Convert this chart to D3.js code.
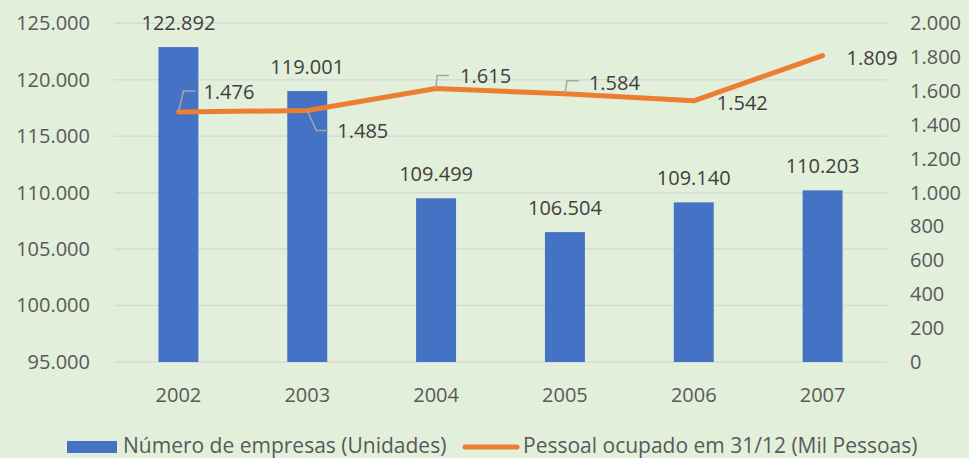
<!DOCTYPE html>
<html>
<head>
<meta charset="utf-8">
<script src="https://cdn.jsdelivr.net/npm/d3@7"></script>
<style>
  body { margin: 0; background: #E2EFDA; }
  svg { display: block; font-family: "Open Sans", sans-serif; }
</style>
</head>
<body>
<svg id="chart" width="969" height="458"></svg>
<script>
// dados
var anos = ['2002', '2003', '2004', '2005', '2006', '2007']
var empresas = [122892, 119001, 109499, 106504, 109140, 110203]
var pessoal = [1476, 1485, 1615, 1584, 1542, 1809]
var ticksEsq = [95000, 100000, 105000, 110000, 115000, 120000, 125000]
var ticksDir = [0, 200, 400, 600, 800, 1000, 1200, 1400, 1600, 1800, 2000]
var legendaNomes = ['Número de empresas (Unidades)', 'Pessoal ocupado em 31/12 (Mil Pessoas)']

// posição dos rótulos da linha (deslocamento em px a partir do ponto)
var rotuloLinha = [
  { tx: 25, ty: -20, lead: [5, -21] },
  { tx: 30, ty: 20, lead: [9, 20] },
  { tx: 24, ty: -12, lead: [1, -13] },
  { tx: 24, ty: -11, lead: [2, -13] },
  { tx: 23, ty: 2, lead: null },
  { tx: 24, ty: 2, lead: null }
]

var pt = d3.formatLocale({ decimal: ',', thousands: '.', grouping: [3], currency: ['R$', ''] })
var fmt = pt.format(',d')

// área do gráfico (não usar "top", conflita com window.top)
var plotL = 114, plotR = 887, plotT = 23.3, plotB = 362
var svg = d3.select('#chart')

var x = d3.scaleBand().domain(anos).range([plotL, plotR]).paddingInner(0.69).paddingOuter(0.345)
var yL = d3.scaleLinear().domain([95000, 125000]).range([plotB, plotT])
var yR = d3.scaleLinear().domain([0, 2000]).range([plotB, plotT])

// linhas de grade
svg.append('g').selectAll('line').data(ticksEsq).join('line')
  .attr('x1', plotL).attr('x2', plotR)
  .attr('y1', (d) => yL(d)).attr('y2', (d) => yL(d))
  .attr('stroke', '#D9D9D9').attr('stroke-width', 1.5)

function estiloEixo(g) {
  g.select('.domain').remove()
  g.selectAll('text').attr('font-size', 20).attr('fill', '#595959').attr('font-family', 'Open Sans')
}

// eixo esquerdo
var axL = d3.axisLeft(yL).tickValues(ticksEsq).tickFormat(fmt).tickSize(0).tickPadding(24)
svg.append('g').attr('transform', `translate(${plotL},0)`).call(axL).call(estiloEixo)

// eixo direito
var axR = d3.axisRight(yR).tickValues(ticksDir).tickFormat(fmt).tickSize(0).tickPadding(23)
svg.append('g').attr('transform', `translate(${plotR},0)`).call(axR).call(estiloEixo)

// eixo x
var axX = d3.axisBottom(x).tickSize(0).tickPadding(26)
svg.append('g').attr('transform', `translate(0,${plotB})`).call(axX).call(estiloEixo)

// barras
svg.append('g').selectAll('rect').data(empresas).join('rect')
  .attr('x', (d, i) => x(anos[i]))
  .attr('y', (d) => yL(d))
  .attr('width', x.bandwidth())
  .attr('height', (d) => plotB - yL(d))
  .attr('fill', '#4472C4')

svg.append('g').selectAll('text').data(empresas).join('text')
  .attr('x', (d, i) => x(anos[i]) + x.bandwidth() / 2)
  .attr('y', (d) => yL(d) - 17)
  .attr('text-anchor', 'middle')
  .attr('font-size', 20).attr('fill', '#404040')
  .text((d) => fmt(d))

// linha
var cx = (i) => x(anos[i]) + x.bandwidth() / 2
var linha = d3.line().x((d, i) => cx(i)).y((d) => yR(d))
svg.append('path').datum(pessoal)
  .attr('d', linha)
  .attr('fill', 'none').attr('stroke', '#ED7D31').attr('stroke-width', 5)
  .attr('stroke-linejoin', 'round').attr('stroke-linecap', 'round')

// linhas de chamada
var gLead = svg.append('g')
pessoal.forEach((d, i) => {
  var r = rotuloLinha[i]
  if (!r.lead) return
  var px = cx(i), py = yR(d)
  gLead.append('path')
    .attr('d', d3.line()([[px, py], [px + r.lead[0], py + r.lead[1]], [px + r.lead[0] + 12, py + r.lead[1]]]))
    .attr('fill', 'none').attr('stroke', '#A6A6A6').attr('stroke-width', 1.5)
})

svg.append('g').selectAll('text').data(pessoal).join('text')
  .attr('x', (d, i) => cx(i) + rotuloLinha[i].tx)
  .attr('y', (d, i) => yR(d) + rotuloLinha[i].ty + 7)
  .attr('font-size', 20).attr('fill', '#404040')
  .text((d) => fmt(d))

// legenda
var leg = svg.append('g')
leg.append('rect').attr('x', 67).attr('y', 441).attr('width', 50).attr('height', 12).attr('fill', '#4472C4')
leg.append('text').attr('x', 123).attr('y', 453).attr('font-size', 21).attr('fill', '#595959').text(legendaNomes[0])
leg.append('line').attr('x1', 465).attr('x2', 517).attr('y1', 447).attr('y2', 447)
  .attr('stroke', '#ED7D31').attr('stroke-width', 5).attr('stroke-linecap', 'round')
leg.append('text').attr('x', 523).attr('y', 453).attr('font-size', 21).attr('fill', '#595959').text(legendaNomes[1])
</script>
</body>
</html>
